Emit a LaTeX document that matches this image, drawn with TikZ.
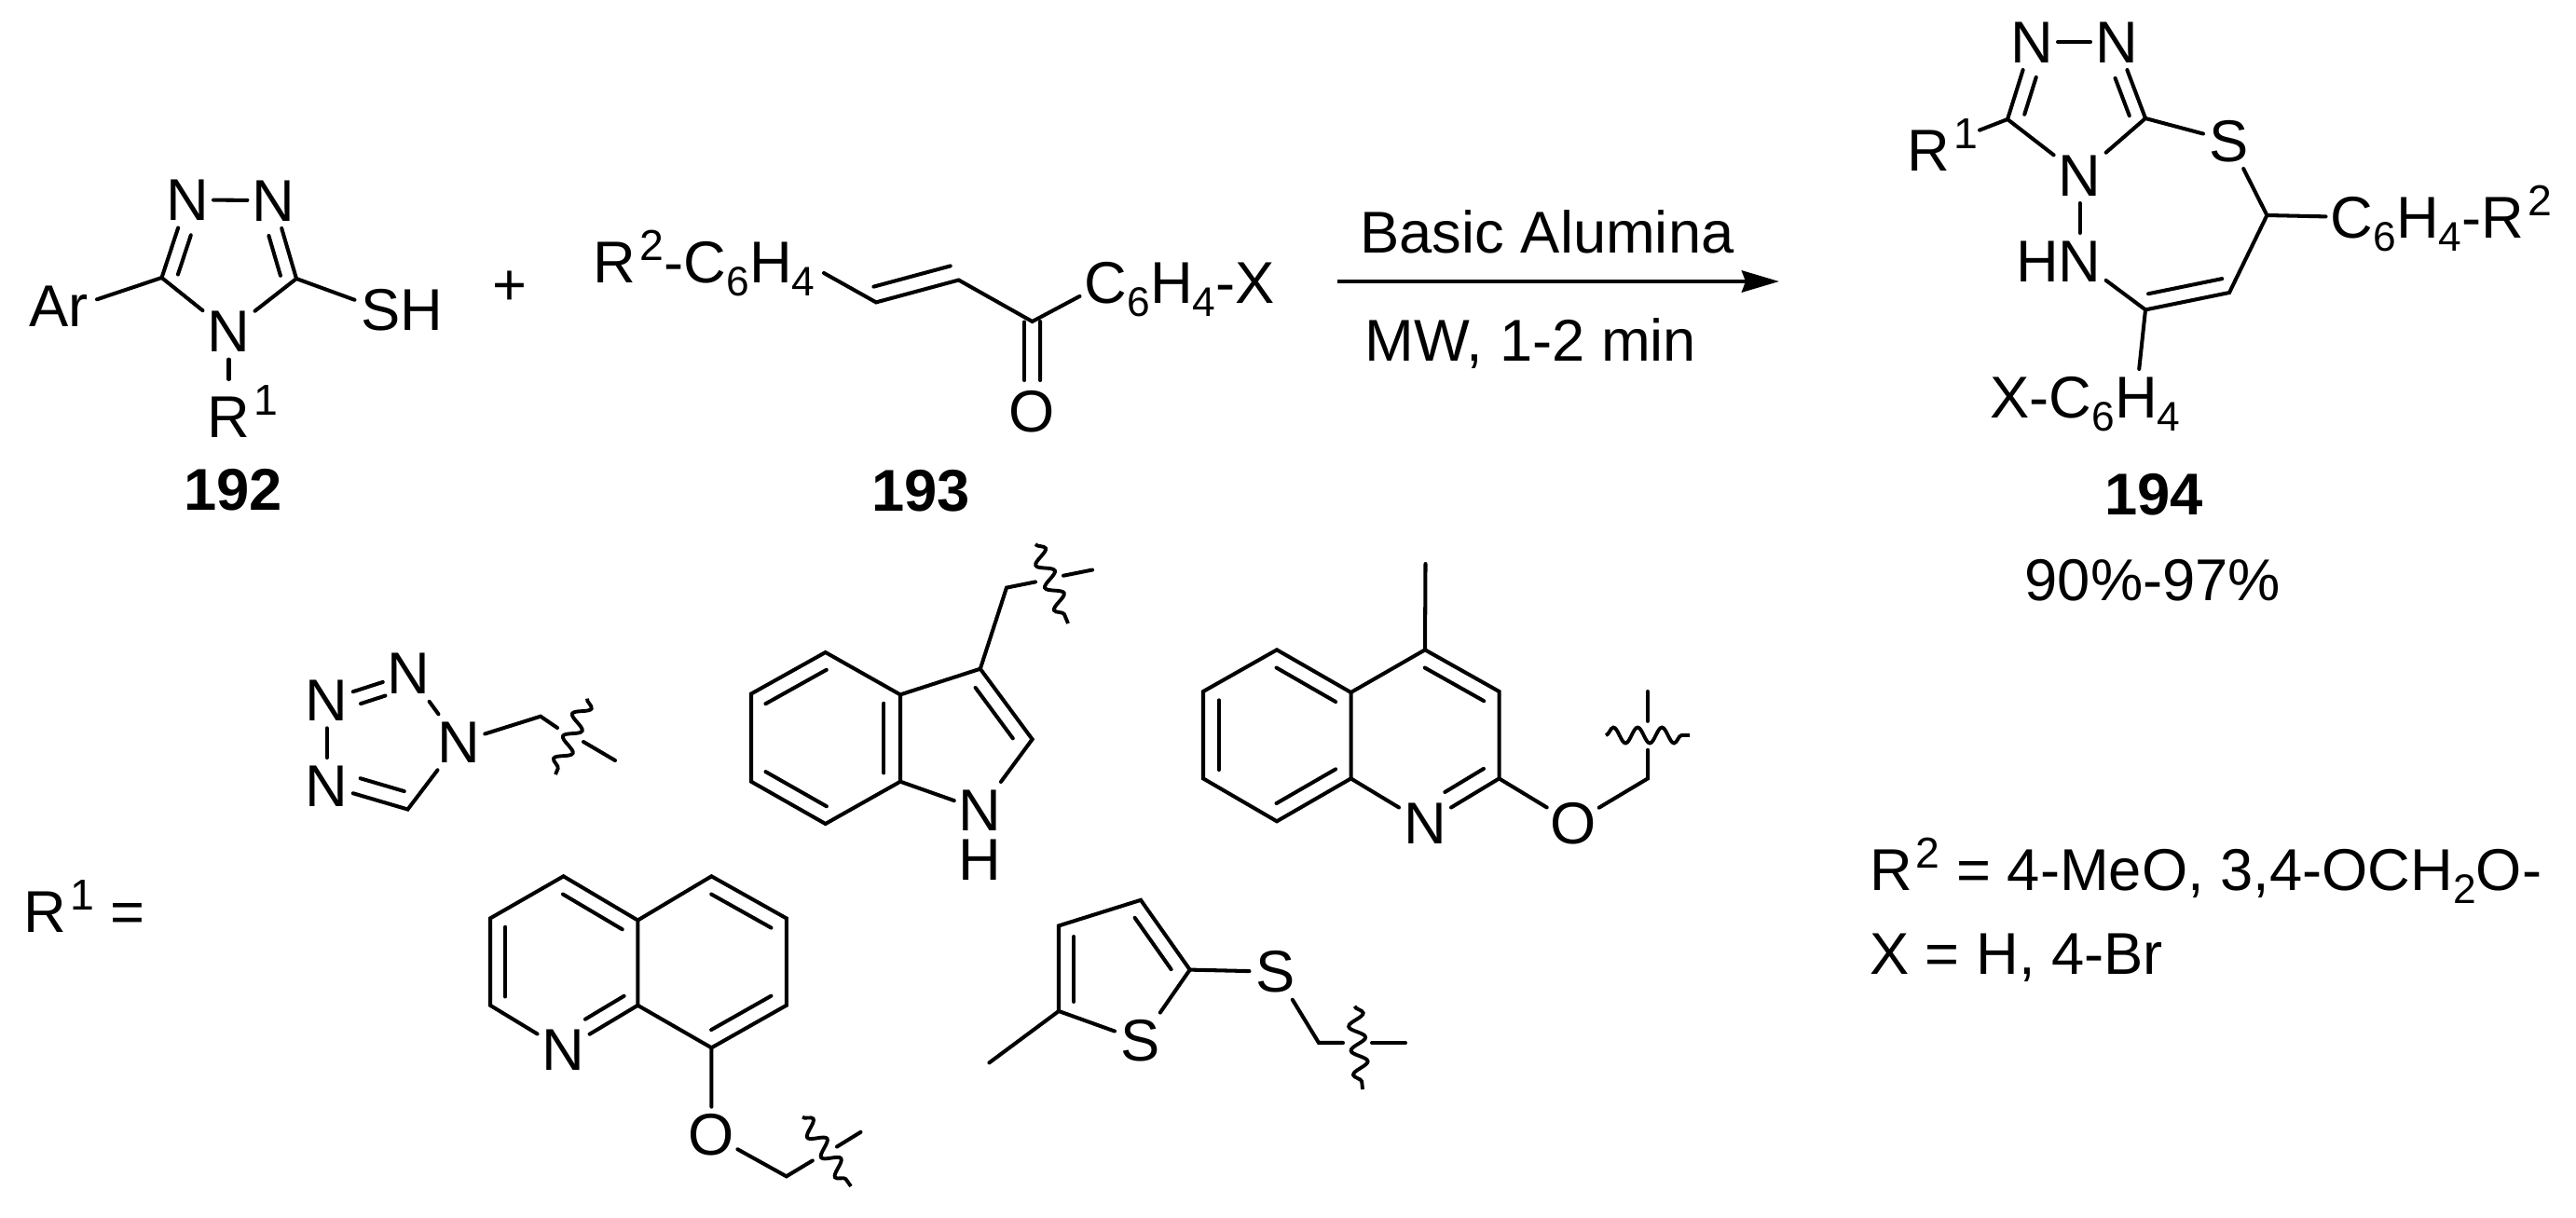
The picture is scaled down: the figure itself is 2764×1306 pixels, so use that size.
\documentclass[tikz,border=0pt]{standalone}
\usepackage{fontspec}
\setmainfont{Liberation Sans}
\usetikzlibrary{calc}
\usetikzlibrary{arrows.meta}
\usetikzlibrary{decorations.pathmorphing}
\newcommand{\chemfont}{\fontsize{18}{20}\selectfont}
\newcommand{\supr}[1]{\kern1.2pt\raisebox{6.8pt}{\fontsize{13.2}{14}\selectfont #1}}
\newcommand{\subr}[1]{\raisebox{-4pt}{\fontsize{12.6}{14}\selectfont #1}}
\newcommand{\inbond}[5]{\draw[bond] ($(#1)!#4!(#2)!#3!90:(#2)$) -- ($(#1)!#5!(#2)!#3!90:(#2)$);}
\tikzstyle{atom}=[inner sep=0pt, outer sep=0pt, minimum width=0.56cm, minimum height=0.6cm, text height=0.44cm, text depth=0pt, font=\chemfont]
\tikzstyle{lab}=[inner sep=0pt, outer sep=0pt, anchor=base, font=\chemfont]
\tikzstyle{labl}=[lab, anchor=base west]
\tikzstyle{num}=[lab, font=\chemfont\bfseries]
\tikzstyle{bond}=[line width=1.15pt, line cap=round]
\tikzstyle{wavy}=[line width=1.1pt, decorate, decoration={snake, amplitude=2.4pt, segment length=7.4pt}]
\tikzstyle{rxn}=[line width=1.35pt, -{Stealth[length=0.4cm, width=0.23cm, inset=0.04cm]}]
\begin{document}
\begin{tikzpicture}[x=0.01cm, y=-0.01cm]
        \useasboundingbox (0,0) rectangle (2764,1306);

        \node[atom] (Na) at (201,214.5) {N};
        \node[atom] (Nb) at (293.4,215) {N};
        \node[atom] (Nc) at (245.5,355.6) {N};
        \node[atom, minimum width=0.4cm] (Ar) at (84,328) {\llap{A}r};
        \node[atom] (SH) at (408.5,332) {S\rlap{H}};
        \node[atom, minimum height=0.8cm] (Ra) at (245.5,447) {R\rlap{\supr{1}}};
        \coordinate (Ca) at (173.5,298);
        \coordinate (Cb) at (318,299);
        \draw[bond] (Na) -- (Nb);
        \draw[bond] (Na) -- (Ca) -- (Nc);
        \draw[bond] (Nb) -- (Cb) -- (Nc);
        \draw[bond] (Ca) -- (Ar);
        \draw[bond] (Cb) -- (SH);
        \draw[bond] (Nc) -- (Ra);
        \inbond{Na}{Ca}{4.4pt}{0.395}{0.9}
        \inbond{Cb}{Nb}{4.4pt}{0.09}{0.6}
        \node[num] (n192) at (250,547) {192};
        \node[lab] (plus) at (546.6,327) {+};

        \node[atom] (Hd) at (827,281.5) {\llap{R\supr{2}-C\subr{6}}H\rlap{\subr{4}}};
        \coordinate (ed) at (884,293);
        \coordinate (Cd) at (940,324.4);
        \coordinate (Ce) at (1028.6,300.5);
        \coordinate (Cf) at (1107.6,345);
        \node[atom] (Cg) at (1186.5,303) {C\rlap{\subr{6}H\subr{4}-X}};
        \node[atom] (Ok) at (1107.6,441) {O};
        \draw[bond] (ed) -- (Cd) -- (Ce) -- (Cf) -- (Cg);
        \inbond{Cd}{Ce}{4.8pt}{0.02}{0.95}
        \inbond{Cf}{Ok}{2.4pt}{0}{0.656}
        \inbond{Ok}{Cf}{2.4pt}{0.344}{0.995}
        \node[num] (n193) at (988,548) {193};

        \coordinate (arS) at (1435,302);
        \coordinate (arE) at (1909,302);
        \draw[rxn] (arS) -- (arE);
        \node[lab] (cond) at (1660,271.4) {Basic Alumina};
        \node[lab] (time) at (1642.5,387.5) {MW, 1-2 min};

        \node[atom] (Nh) at (2180,45) {N};
        \node[atom] (Ni) at (2271,45) {N};
        \node[atom] (Nj) at (2231.6,188) {N};
        \node[atom] (Nk) at (2231.6,280) {\llap{H}N};
        \node[atom] (Sa) at (2392,151) {S};
        \node[atom, minimum width=1.1cm] (Rb) at (2069,161) {R\rlap{\supr{1}}};
        \node[atom] (Cw) at (2523.5,233) {C\rlap{\subr{6}H\subr{4}-R\supr{2}}};
        \node[atom] (Hx) at (2292,426) {\llap{X-C\subr{6}}H\rlap{\subr{4}}};
        \coordinate (Cq) at (2154,128);
        \coordinate (Cr) at (2302,127);
        \coordinate (Cs) at (2432.4,231);
        \coordinate (Ct) at (2392,314);
        \coordinate (Cu) at (2302,332.4);
        \draw[bond] (Nh) -- (Ni);
        \draw[bond] (Nh) -- (Cq) -- (Nj);
        \draw[bond] (Ni) -- (Cr) -- (Nj);
        \draw[bond] (Cq) -- (Rb);
        \draw[bond] (Cr) -- (Sa);
        \draw[bond] (Sa) -- (Cs) -- (Ct) -- (Cu) -- (Nk);
        \draw[bond] (Nj) -- (Nk);
        \draw[bond] (Cs) -- (Cw);
        \draw[bond] (Cu) -- (Hx);
        \inbond{Cu}{Ct}{4.6pt}{0.07}{0.95}
        \inbond{Nh}{Cq}{4.5pt}{0.4}{0.88}
        \inbond{Cr}{Ni}{4.3pt}{0.1}{0.59}
        \node[num] (n194) at (2311,552.6) {194};
        \node[lab] (yield) at (2310,644) {90\%-97\%};

        \node[labl] (Rdef) at (25.5,1000) {R\supr{1} =};

        \node[atom] (Tt) at (438.8,722.8) {N};
        \node[atom] (Tl) at (350.8,751.3) {N};
        \node[atom] (Tr) at (492.3,796.3) {N};
        \node[atom] (Tb) at (350.8,843) {N};
        \coordinate (Tc) at (437.5,868.5);
        \coordinate (Tm) at (580,768.7);
        \coordinate (Tx) at (598,781);
        \coordinate (Ty) at (626,796);
        \coordinate (Tz) at (660,816);
        \coordinate (Tu) at (630,749.6);
        \coordinate (Tv) at (596,831);
        \draw[bond] (Tt) -- (Tl);
        \draw[bond] (Tl) -- (Tb);
        \draw[bond] (Tb) -- (Tc) -- (Tr);
        \draw[bond] (Tr) -- (Tt);
        \draw[bond] (Tr) -- (Tm) -- (Tx);
        \draw[bond] (Ty) -- (Tz);
        \draw[wavy] (Tu) -- (Tv);
        \inbond{Tt}{Tl}{4.2pt}{0.34}{0.64}
        \inbond{Tb}{Tc}{5pt}{0.356}{0.9}

        \coordinate (ia) at (885.7,700);
        \coordinate (ib) at (806,744.5);
        \coordinate (ic) at (806,838.7);
        \coordinate (id) at (885.7,884);
        \coordinate (ie) at (966,838.7);
        \coordinate (if) at (966,745.4);
        \coordinate (ig) at (1051.8,717.7);
        \coordinate (ih) at (1107.6,793.3);
        \coordinate (im) at (1080,630.6);
        \node[atom] (iN) at (1051.8,869) {N\llap{\raisebox{-15.3pt}{H}}};
        \coordinate (ix) at (1111,624.4);
        \coordinate (iy) at (1141,617.7);
        \coordinate (iz) at (1172,611.5);
        \coordinate (iu) at (1111,584);
        \coordinate (iv) at (1146,669);
        \draw[bond] (if) -- (ia) -- (ib) -- (ic) -- (id) -- (ie) -- (if) -- (ig) -- (ih) -- (iN);
        \draw[bond] (ie) -- (iN);
        \draw[bond] (ig) -- (im) -- (ix);
        \draw[bond] (iy) -- (iz);
        \draw[wavy] (iu) -- (iv);
        \inbond{ia}{ib}{4.8pt}{0.09}{0.91}
        \inbond{ic}{id}{4.8pt}{0.09}{0.91}
        \inbond{ie}{if}{5pt}{0.1}{0.9}
        \inbond{ih}{ig}{4.6pt}{0.14}{0.86}

        \coordinate (qa) at (1370,697.3);
        \coordinate (qb) at (1291,742);
        \coordinate (qc) at (1291,835.4);
        \coordinate (qd) at (1370,881.3);
        \coordinate (qe) at (1449.5,835.4);
        \coordinate (qf) at (1449.5,743);
        \coordinate (qg) at (1529,697.3);
        \coordinate (qh) at (1608.5,742);
        \coordinate (qi) at (1608.5,835.4);
        \coordinate (qm) at (1529.5,605);
        \node[atom] (qN) at (1529,883.4) {N};
        \node[atom] (qO) at (1687.7,883.4) {O};
        \coordinate (qs) at (1768,835.4);
        \coordinate (qx) at (1768,804.8);
        \coordinate (qy) at (1768,773.8);
        \coordinate (qz) at (1768,742);
        \coordinate (qu) at (1723,789);
        \coordinate (qv) at (1813,789);
        \draw[bond] (qf) -- (qa) -- (qb) -- (qc) -- (qd) -- (qe) -- (qf) -- (qg) -- (qh) -- (qi) -- (qN);
        \draw[bond] (qe) -- (qN);
        \draw[bond] (qg) -- (qm);
        \draw[bond] (qi) -- (qO) -- (qs) -- (qx);
        \draw[bond] (qy) -- (qz);
        \draw[wavy] (qu) -- (qv);
        \inbond{qf}{qa}{4.8pt}{0.1}{0.9}
        \inbond{qb}{qc}{4.8pt}{0.1}{0.9}
        \inbond{qd}{qe}{4.8pt}{0.1}{0.9}
        \inbond{qh}{qg}{4.8pt}{0.1}{0.9}
        \inbond{qN}{qi}{5pt}{0.383}{0.906}

        \coordinate (pa) at (604.6,940.3);
        \coordinate (pb) at (526,985.4);
        \coordinate (pc) at (526,1078.8);
        \coordinate (pd) at (684.3,1078.8);
        \coordinate (pe) at (684.3,987.5);
        \coordinate (pf) at (763.4,940.3);
        \coordinate (pg) at (843.8,985.4);
        \coordinate (ph) at (843.8,1078.8);
        \coordinate (pi) at (763.4,1124.3);
        \node[atom] (pN) at (604.6,1126.5) {N};
        \node[atom] (pO) at (763.4,1217.7) {O};
        \coordinate (ps) at (843.8,1262.3);
        \coordinate (px) at (871.8,1245.4);
        \coordinate (py) at (898,1230.5);
        \coordinate (pz) at (923.5,1214.8);
        \coordinate (pu) at (861,1198.6);
        \coordinate (pv) at (913,1273);
        \draw[bond] (pN) -- (pc) -- (pb) -- (pa) -- (pe) -- (pd) -- (pN);
        \draw[bond] (pe) -- (pf) -- (pg) -- (ph) -- (pi) -- (pd);
        \draw[bond] (pi) -- (pO) -- (ps) -- (px);
        \draw[bond] (py) -- (pz);
        \draw[wavy] (pu) -- (pv);
        \inbond{pe}{pa}{4.8pt}{0.1}{0.9}
        \inbond{pb}{pc}{4.6pt}{0.1}{0.9}
        \inbond{pN}{pd}{4.6pt}{0.397}{0.92}
        \inbond{pg}{pf}{4.8pt}{0.1}{0.9}
        \inbond{pi}{ph}{4.8pt}{0.1}{0.9}

        \coordinate (sa) at (1224,965.8);
        \coordinate (sb) at (1136,993.4);
        \coordinate (sc) at (1136,1085);
        \coordinate (sd) at (1276.7,1040.6);
        \coordinate (sm) at (1061.4,1140.4);
        \node[atom] (sS) at (1224,1116.6) {S};
        \node[atom] (sT) at (1368.5,1042.7) {S};
        \coordinate (ss) at (1415,1119);
        \coordinate (sx) at (1441,1119);
        \coordinate (sy) at (1472,1119);
        \coordinate (sz) at (1508,1119);
        \coordinate (su) at (1453.5,1079.7);
        \coordinate (sv) at (1462,1169);
        \draw[bond] (sS) -- (sc) -- (sb) -- (sa) -- (sd) -- (sS);
        \draw[bond] (sc) -- (sm);
        \draw[bond] (sd) -- (sT) -- (ss) -- (sx);
        \draw[bond] (sy) -- (sz);
        \draw[wavy] (su) -- (sv);
        \inbond{sd}{sa}{4.6pt}{0.13}{0.87}
        \inbond{sb}{sc}{4.6pt}{0.127}{0.89}

        \node[labl] (Rtwo) at (2006,955) {R\supr{2} = 4-MeO, 3,4-OCH\subr{2}O-};
        \node[labl] (Xdef) at (2006,1045) {X = H, 4-Br};
    \end{tikzpicture}
\end{document}
